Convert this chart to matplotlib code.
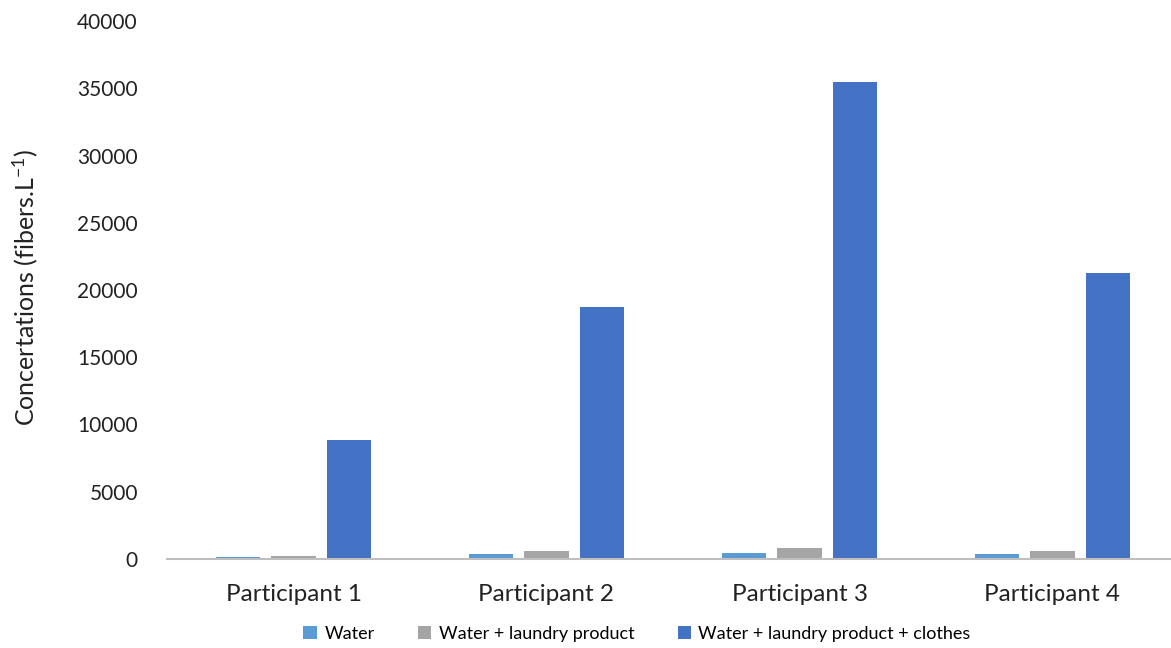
import numpy as np
import matplotlib
matplotlib.use("Agg")
import matplotlib.pyplot as plt

participants = ["Participant 1", "Participant 2", "Participant 3", "Participant 4"]
series_names = ["Water", "Water + laundry product", "Water + laundry product + clothes"]
water = [150, 370, 450, 400]
water_product = [220, 570, 820, 600]
water_product_clothes = [8850, 18750, 35500, 21250]
colors = ["#5B9BD5", "#A5A5A5", "#4472C4"]

plt.rcParams["font.family"] = ["Lato", "DejaVu Sans"]
plt.rcParams["mathtext.fontset"] = "custom"
plt.rcParams["mathtext.rm"] = "Lato"
plt.rcParams["mathtext.it"] = "Lato"
plt.rcParams["mathtext.default"] = "regular"

fig = plt.figure(figsize=(11.71, 6.48), dpi=100)
ax = fig.add_axes([167 / 1171, 1 - 559 / 648, 1012 / 1171, 538 / 648])

x = np.arange(len(participants))
width = 0.176
step = 0.219
for i, (vals, name, col) in enumerate(zip([water, water_product, water_product_clothes], series_names, colors)):
    ax.bar(x + (i - 1) * step, vals, width, color=col, label=name, zorder=2)

ax.set_xlim(-0.5, len(participants) - 0.5)
ax.set_ylim(0, 40000)
ax.set_yticks(np.arange(0, 40001, 5000))
ax.set_xticks(x)
ax.set_xticklabels(participants, fontsize=17.5, color="#222222")
ax.tick_params(axis="y", length=0, pad=21, labelsize=15, labelcolor="#222222")
ax.tick_params(axis="x", length=0, pad=18)

for s in ["top", "right", "left"]:
    ax.spines[s].set_visible(False)
ax.spines["bottom"].set_color("#bfbfbf")
ax.spines["bottom"].set_linewidth(1.5)

fig.text(25 / 1171, 1 - 288 / 648, "Concertations (fibers.L$^{-1}$)", rotation=90,
         ha="center", va="center", fontsize=18, color="#222222")

fig.legend(loc="center", bbox_to_anchor=(637 / 1171, 1 - 634 / 648), ncol=3,
           frameon=False, fontsize=13, handlelength=0.75, handleheight=0.75,
           handletextpad=0.4, columnspacing=2.4)

fig.savefig("out.png", dpi=100)
